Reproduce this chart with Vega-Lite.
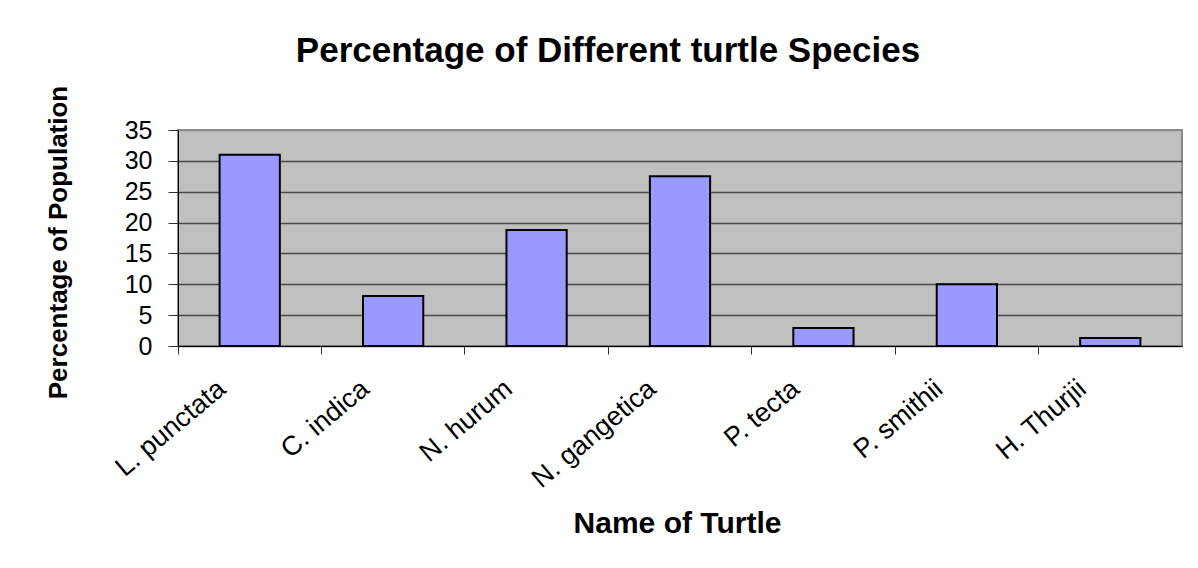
{
  "$schema": "https://vega.github.io/schema/vega-lite/v6.json",
  "autosize": "none",
  "width": 1004,
  "height": 216,
  "padding": {"left": 178, "top": 130, "right": 16, "bottom": 222},
  "background": "white",
  "title": {
    "text": "Percentage of Different turtle Species",
    "font": "Liberation Sans",
    "fontSize": 35,
    "fontWeight": "bold",
    "color": "black",
    "anchor": "middle",
    "frame": "group",
    "baseline": "alphabetic",
    "offset": 24,
    "dy": 36,
    "dx": -72
  },
  "data": {
    "values": [
      {"species": "L. punctata", "pct": 31},
      {"species": "C. indica", "pct": 8.1},
      {"species": "N. hurum", "pct": 18.8},
      {"species": "N. gangetica", "pct": 27.5},
      {"species": "P. tecta", "pct": 2.9},
      {"species": "P. smithii", "pct": 10},
      {"species": "H. Thurjii", "pct": 1.3}
    ]
  },
  "mark": {
    "type": "bar",
    "color": "#9999FF",
    "stroke": "black",
    "strokeWidth": 2,
    "width": {"band": 0.42}
  },
  "encoding": {
    "x": {
      "field": "species",
      "type": "nominal",
      "sort": null,
      "scale": {"paddingInner": 0, "paddingOuter": 0},
      "axis": {
        "title": "Name of Turtle",
        "titleFont": "Liberation Sans",
        "titleFontSize": 30,
        "titleFontWeight": "bold",
        "titleColor": "black",
        "titleBaseline": "alphabetic",
        "titleY": 186,
        "titleX": 499,
        "bandPosition": 0,
        "labelAngle": -40,
        "labelAlign": "right",
        "labelBaseline": "top",
        "labelOffset": -36,
        "labelPadding": 21,
        "labelFont": "Liberation Sans",
        "labelFontSize": 27,
        "labelColor": "black",
        "tickSize": 8,
        "tickColor": "#333333",
        "domainColor": "black",
        "domainWidth": 1,
        "grid": false
      }
    },
    "y": {
      "field": "pct",
      "type": "quantitative",
      "scale": {"domain": [0, 35], "nice": false},
      "axis": {
        "title": "Percentage of Population",
        "titleFont": "Liberation Sans",
        "titleFontSize": 26,
        "titleFontWeight": "bold",
        "titleColor": "black",
        "titleBaseline": "alphabetic",
        "titleAngle": -90,
        "titleAlign": "center",
        "titleX": -112,
        "titleY": 112,
        "values": [0, 5, 10, 15, 20, 25, 30, 35],
        "labelFont": "Liberation Sans",
        "labelFontSize": 25,
        "labelColor": "black",
        "labelPadding": 16,
        "tickSize": 10,
        "tickColor": "#333333",
        "domainColor": "black",
        "grid": true,
        "gridColor": {"condition": {"test": "datum.value == 35", "value": "#8a8a8a"}, "value": "#4a4a4a"},
        "gridWidth": 1.5
      }
    }
  },
  "config": {
    "view": {"fill": "#C0C0C0", "stroke": "#8a8a8a", "strokeWidth": 2}
  }
}
